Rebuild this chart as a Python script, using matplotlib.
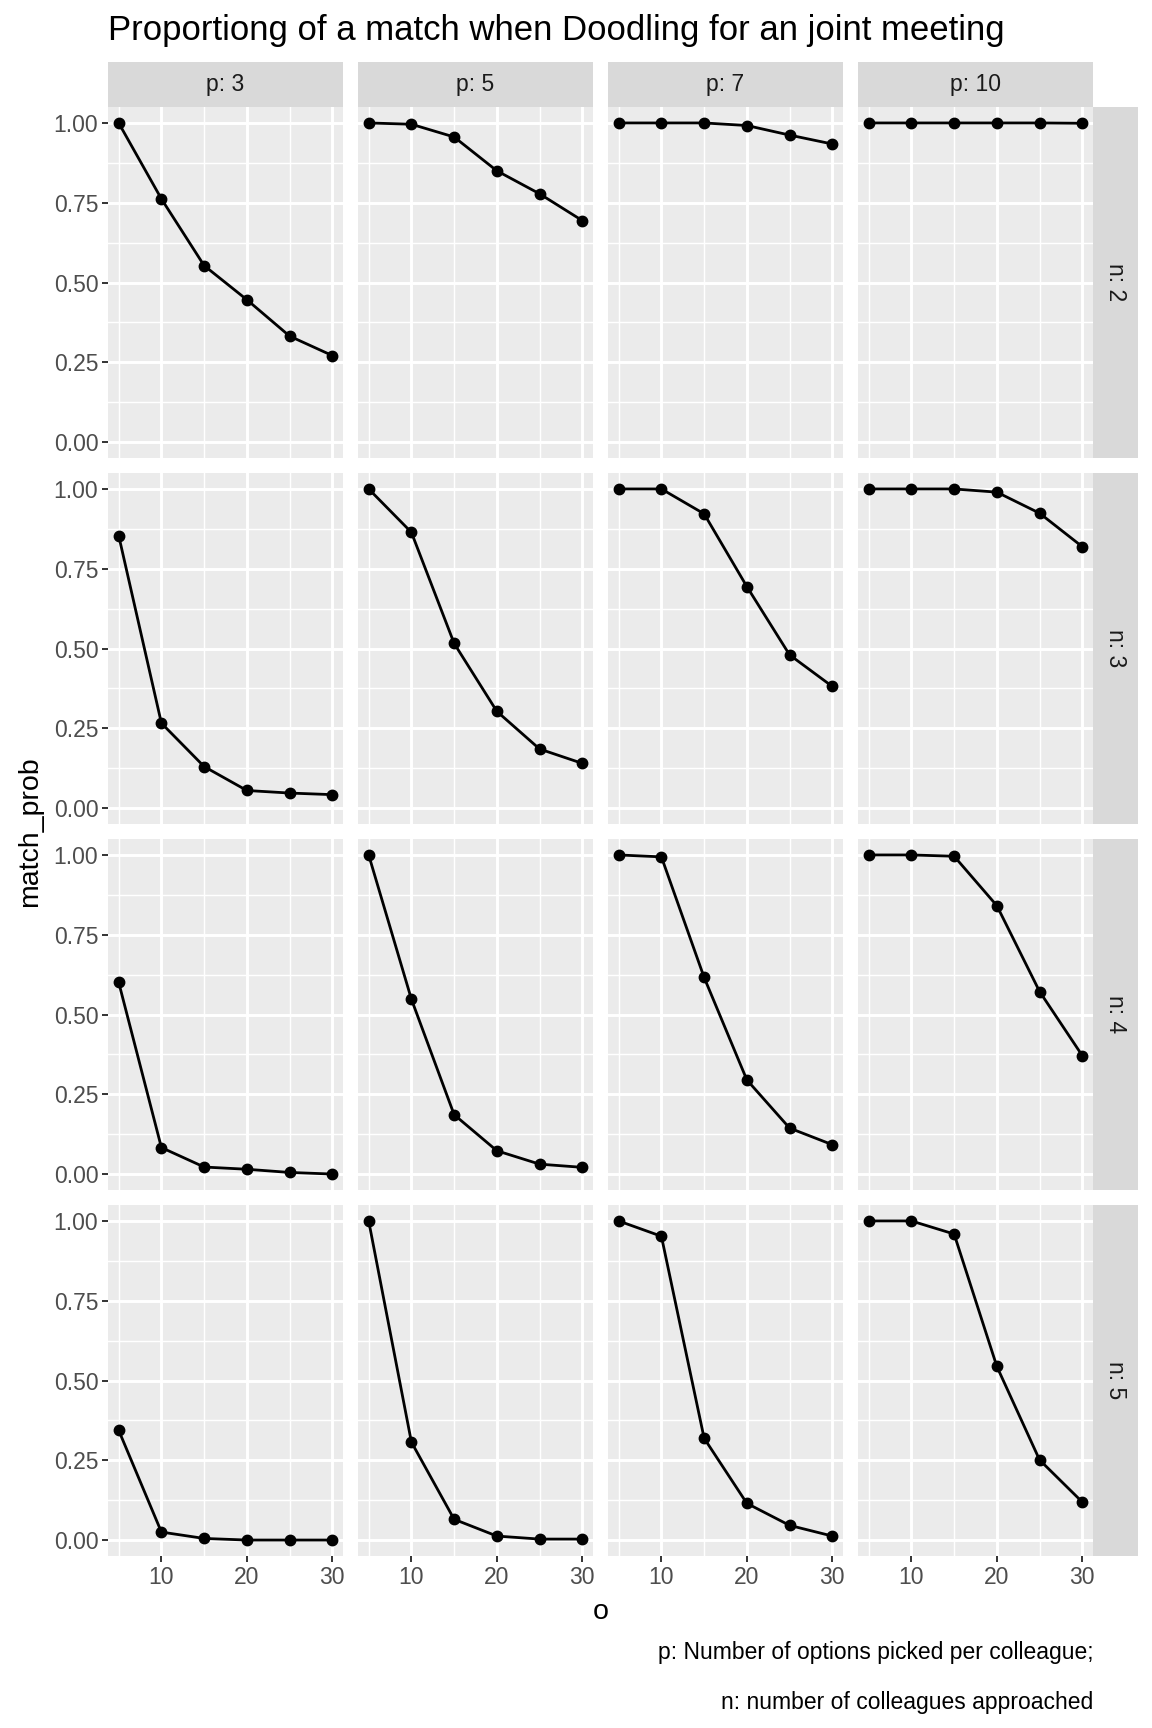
import matplotlib
matplotlib.use("Agg")
import matplotlib.pyplot as plt

plt.rcParams['font.family'] = ['Liberation Sans', 'DejaVu Sans']

# data
o_values = [5, 10, 15, 20, 25, 30]
p_values = [3, 5, 7, 10]
n_values = [2, 3, 4, 5]

# one list per n, inside one list per p (p: 3, 5, 7, 10)
prob_n2 = [
    [1.0, 0.762, 0.553, 0.446, 0.332, 0.271],
    [1.0, 0.996, 0.956, 0.850, 0.778, 0.694],
    [1.0, 1.0, 1.0, 0.992, 0.962, 0.934],
    [1.0, 1.0, 1.0, 1.0, 1.0, 0.999],
]
prob_n3 = [
    [0.854, 0.266, 0.130, 0.055, 0.047, 0.042],
    [1.0, 0.864, 0.516, 0.303, 0.185, 0.140],
    [1.0, 1.0, 0.922, 0.694, 0.480, 0.381],
    [1.0, 1.0, 1.0, 0.990, 0.924, 0.819],
]
prob_n4 = [
    [0.601, 0.083, 0.022, 0.015, 0.005, 0.0],
    [1.0, 0.548, 0.186, 0.073, 0.031, 0.021],
    [1.0, 0.994, 0.616, 0.295, 0.144, 0.092],
    [1.0, 1.0, 0.996, 0.841, 0.572, 0.371],
]
prob_n5 = [
    [0.344, 0.025, 0.005, 0.0, 0.0, 0.0],
    [1.0, 0.307, 0.065, 0.0125, 0.003, 0.003],
    [1.0, 0.952, 0.319, 0.115, 0.046, 0.0125],
    [1.0, 1.0, 0.959, 0.544, 0.251, 0.119],
]
prob_rows = [prob_n2, prob_n3, prob_n4, prob_n5]

W, H = 1152, 1728
fig = plt.figure(figsize=(W / 100, H / 100), dpi=100)

def box(x0, y0, w, h):
    return [x0 / W, 1 - (y0 + h) / H, w / W, h / H]

left, col_w, col_gap = 108, 235, 15
top, row_h, row_gap = 107, 351, 15
strip = 45

panel_bg = '#EBEBEB'
strip_bg = '#D9D9D9'
small = 16.5
medium = 20.5

for i, n in enumerate(n_values):
    y0 = top + i * (row_h + row_gap)
    for j, p in enumerate(p_values):
        x0 = left + j * (col_w + col_gap)
        ax = fig.add_axes(box(x0, y0, col_w, row_h))
        ax.set_facecolor(panel_bg)
        for s in ax.spines.values():
            s.set_visible(False)
        ax.plot(o_values, prob_rows[i][j], color='black', lw=2.0, zorder=3)
        ax.plot(o_values, prob_rows[i][j], 'o', color='black', ms=7.5, zorder=4)
        ax.set_xlim(3.75, 31.25)
        ax.set_ylim(-0.05, 1.05)
        ax.set_xticks([10, 20, 30])
        ax.set_xticks([5, 15, 25], minor=True)
        ax.set_yticks([0, 0.25, 0.5, 0.75, 1.0])
        ax.set_yticks([0.125, 0.375, 0.625, 0.875], minor=True)
        ax.set_yticklabels(['0.00', '0.25', '0.50', '0.75', '1.00'])
        ax.grid(which='major', color='white', lw=2.1)
        ax.grid(which='minor', color='white', lw=1.05)
        ax.set_axisbelow(True)
        ax.tick_params(which='minor', length=0)
        ax.tick_params(which='major', length=4, width=1.4, color='#333333',
                       labelsize=small, labelcolor='#4D4D4D', pad=3)
        if i < len(n_values) - 1:
            ax.tick_params(axis='x', which='major', length=0, labelbottom=False)
        if j > 0:
            ax.tick_params(axis='y', which='major', length=0, labelleft=False)

        if i == 0:
            sx = fig.add_axes(box(x0, top - strip, col_w, strip))
            sx.set_facecolor(strip_bg)
            sx.set_xticks([])
            sx.set_yticks([])
            for s in sx.spines.values():
                s.set_visible(False)
            sx.text(0.5, 0.5, 'p: %d' % p, ha='center', va='center',
                    fontsize=small, color='#1A1A1A', transform=sx.transAxes)

    rx = left + len(p_values) * col_w + (len(p_values) - 1) * col_gap
    sy = fig.add_axes(box(rx, y0, strip, row_h))
    sy.set_facecolor(strip_bg)
    sy.set_xticks([])
    sy.set_yticks([])
    for s in sy.spines.values():
        s.set_visible(False)
    sy.text(0.5, 0.5, 'n: %d' % n, ha='center', va='center', rotation=-90,
            fontsize=small, color='#1A1A1A', transform=sy.transAxes)

panel_right = left + len(p_values) * col_w + (len(p_values) - 1) * col_gap
panel_bottom = top + len(n_values) * row_h + (len(n_values) - 1) * row_gap

fig.text(left / W, 1 - 40 / H, 'Proportiong of a match when Doodling for an joint meeting',
         ha='left', va='baseline', fontsize=25, color='black')
fig.text(30 / W, 1 - (top + panel_bottom) / 2 / H, 'match_prob', rotation=90,
         ha='center', va='center', fontsize=medium, color='black')
fig.text((left + panel_right) / 2 / W, 1 - 1612 / H, 'o',
         ha='center', va='center', fontsize=medium, color='black')
fig.text(panel_right / W, 1 - 1652 / H, 'p: Number of options picked per colleague;',
         ha='right', va='center', fontsize=small, color='black')
fig.text(panel_right / W, 1 - 1702 / H, 'n: number of colleagues approached',
         ha='right', va='center', fontsize=small, color='black')

fig.savefig('out.png', dpi=100)
